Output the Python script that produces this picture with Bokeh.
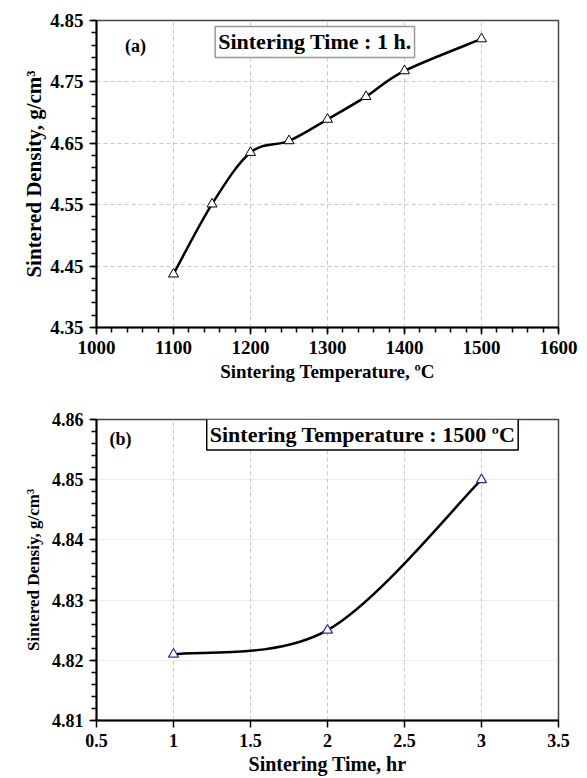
import numpy as np
from bokeh.plotting import figure
from bokeh.layouts import column
from bokeh.models import FixedTicker, Label, PrintfTickFormatter
from bokeh.embed import file_html
from bokeh.resources import INLINE

# ---- data (a) ----
temp_a = [1100, 1150, 1200, 1250, 1300, 1350, 1400, 1500]
dens_a = [4.437, 4.551, 4.635, 4.654, 4.689, 4.726, 4.768, 4.820]
xt_a = [1000, 1100, 1200, 1300, 1400, 1500, 1600]
yt_a = [4.35, 4.45, 4.55, 4.65, 4.75, 4.85]

# ---- data (b) ----
time_b = [1, 2, 3]
dens_b = [4.821, 4.825, 4.850]
xt_b = [0.5, 1, 1.5, 2, 2.5, 3, 3.5]
xt_b_labels = ["0.5", "1", "1.5", "2", "2.5", "3", "3.5"]
yt_b = [4.81, 4.82, 4.83, 4.84, 4.85, 4.86]

FONT = "Liberation Serif"


def smooth_segments(xs, ys):
    x = np.asarray(xs, float)
    y = np.asarray(ys, float)
    n = len(x)
    xp = np.concatenate([[x[0]], x, [x[-1]]])
    yp = np.concatenate([[y[0]], y, [y[-1]]])
    d = dict(x0=[], y0=[], x1=[], y1=[], cx0=[], cy0=[], cx1=[], cy1=[])
    for i in range(n - 1):
        a, b, c, e = i, i + 1, i + 2, i + 3
        d["x0"].append(xp[b]); d["y0"].append(yp[b])
        d["x1"].append(xp[c]); d["y1"].append(yp[c])
        d["cx0"].append(xp[b] + (xp[c] - xp[a]) / 6)
        d["cy0"].append(yp[b] + (yp[c] - yp[a]) / 6)
        d["cx1"].append(xp[c] - (xp[e] - xp[b]) / 6)
        d["cy1"].append(yp[c] - (yp[e] - yp[b]) / 6)
    return d


def style(p, xticks, xminor, yticks, yminor, tick_size):
    p.xaxis.ticker = FixedTicker(ticks=xticks, minor_ticks=xminor)
    p.yaxis.ticker = FixedTicker(ticks=yticks, minor_ticks=yminor)
    for ax in (p.xaxis[0], p.yaxis[0]):
        ax.axis_line_color = "black"
        ax.axis_line_width = 2
        ax.major_tick_line_color = "black"
        ax.major_tick_line_width = 1.5
        ax.minor_tick_line_color = "black"
        ax.minor_tick_line_width = 1.5
        ax.major_tick_in = 0
        ax.major_tick_out = 7
        ax.minor_tick_in = 0
        ax.minor_tick_out = 5
        ax.major_label_text_font = FONT
        ax.major_label_text_font_style = "bold"
        ax.major_label_text_font_size = tick_size
        ax.major_label_text_color = "black"
        ax.axis_label_text_font = FONT
        ax.axis_label_text_font_style = "bold"
        ax.axis_label_text_color = "black"
    p.outline_line_color = "#444444"
    p.outline_line_width = 1.5
    p.background_fill_color = "white"
    p.border_fill_color = "white"


# ---------------- panel (a) ----------------
pa = figure(width=587, height=390, x_range=(1000, 1600), y_range=(4.35, 4.85),
            output_backend="svg", toolbar_location=None,
            min_border_left=80, min_border_right=20, min_border_top=20, min_border_bottom=63)
style(pa, xt_a, list(range(1000, 1601, 20)), yt_a,
      [round(4.35 + 0.02 * i, 2) for i in range(26)], "19px")
pa.yaxis[0].formatter = PrintfTickFormatter(format="%.2f")
pa.xaxis[0].axis_label = "Sintering Temperature, ºC"
pa.yaxis[0].axis_label = "Sintered Density, g/cm³"
pa.xaxis[0].axis_label_text_font_size = "19px"
pa.yaxis[0].axis_label_text_font_size = "21px"
pa.xaxis[0].major_label_standoff = 6
pa.yaxis[0].major_label_standoff = 6
pa.xaxis[0].axis_label_standoff = 4
pa.yaxis[0].axis_label_standoff = 1
pa.xgrid.grid_line_color = "#c8c8c8"
pa.xgrid.grid_line_dash = "4 3"
pa.ygrid.grid_line_color = "#c8c8c8"
pa.ygrid.grid_line_dash = "4 3"

sa = smooth_segments(temp_a, dens_a)
pa.bezier(x0="x0", y0="y0", x1="x1", y1="y1", cx0="cx0", cy0="cy0", cx1="cx1", cy1="cy1",
          source=sa, line_color="black", line_width=2.5)
pa.scatter(temp_a, dens_a, marker="triangle", size=10, fill_color="white",
           line_color="black", line_width=1)

pa.add_layout(Label(x=1283.6, y=4.815, text="Sintering Time : 1 h.",
                    text_font=FONT, text_font_style="bold", text_font_size="22px",
                    text_align="center", text_baseline="middle", text_color="black",
                    border_line_color="#999999", border_line_width=1.5,
                    background_fill_color="white", padding=3))
pa.add_layout(Label(x=1050.5, y=4.8085, text="(a)", text_font=FONT,
                    text_font_style="bold", text_font_size="18px",
                    text_align="center", text_baseline="middle", text_color="black"))

# ---------------- panel (b) ----------------
pb = figure(width=587, height=388, x_range=(0.5, 3.5), y_range=(4.81, 4.86),
            output_backend="svg", toolbar_location=None,
            min_border_left=96, min_border_right=29, min_border_top=29, min_border_bottom=58)
style(pb, xt_b, [], yt_b, [round(4.81 + 0.002 * i, 3) for i in range(26)], "18px")
pb.xaxis[0].minor_tick_line_color = None
pb.xaxis[0].major_label_overrides = {t: l for t, l in zip(xt_b, xt_b_labels)}
pb.yaxis[0].formatter = PrintfTickFormatter(format="%.2f")
pb.xaxis[0].axis_label = "Sintering Time, hr"
pb.yaxis[0].axis_label = "Sintered Densiy, g/cm³"
pb.xaxis[0].axis_label_text_font_size = "20px"
pb.yaxis[0].axis_label_text_font_size = "17px"
pb.xaxis[0].major_label_standoff = 6
pb.yaxis[0].major_label_standoff = 6
pb.xaxis[0].axis_label_standoff = 3
pb.yaxis[0].axis_label_standoff = 6
pb.xgrid.grid_line_color = "#c8c8c8"
pb.xgrid.grid_line_dash = "4 3"
pb.ygrid.grid_line_color = "#dddddd"
pb.ygrid.grid_line_dash = "1 1"

sb = smooth_segments(time_b, dens_b)
pb.bezier(x0="x0", y0="y0", x1="x1", y1="y1", cx0="cx0", cy0="cy0", cx1="cx1", cy1="cy1",
          source=sb, line_color="black", line_width=2.5)
pb.scatter(time_b, dens_b, marker="triangle", size=10, fill_color="white",
           line_color="#2b2b9a", line_width=1.2)

pb.add_layout(Label(x=2.227, y=4.8575, text="Sintering Temperature : 1500 ºC",
                    text_font=FONT, text_font_style="bold", text_font_size="22px",
                    text_align="center", text_baseline="middle", text_color="black",
                    border_line_color="black", border_line_width=1.5,
                    background_fill_color="white", padding=3))
pb.add_layout(Label(x=0.656, y=4.8568, text="(b)", text_font=FONT,
                    text_font_style="bold", text_font_size="18px",
                    text_align="center", text_baseline="middle", text_color="black"))

layout = column(pa, pb, spacing=0)
open("out.html", "w").write(file_html(layout, INLINE))
